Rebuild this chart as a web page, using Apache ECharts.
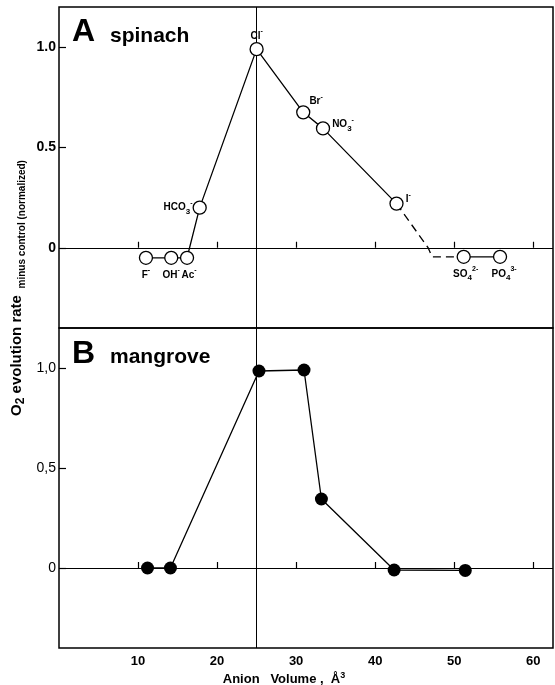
<!DOCTYPE html>
<html>
<head>
<meta charset="utf-8">
<title>Anion volume</title>
<script src="https://cdn.jsdelivr.net/npm/echarts@6/dist/echarts.min.js"></script>
<style>
  html, body { margin: 0; padding: 0; background: #fff; }
  #chart { width: 555px; height: 685px; }
</style>
</head>
<body>
<div id="chart"></div>
<script>
// axis ticks
const xTicks = [10, 20, 30, 40, 50, 60];
const yTicks = [0, 0.5, 1];
const topYLabels = ['0', '0.5', '1.0'];
const bottomYLabels = ['0', '0,5', '1,0'];

// A spinach
const spinachIons = ['F{sup|-}', 'OH{sup|-}', 'Ac{sup|-}', 'HCO{sub|3}{sup|-}', 'Cl{sup|-}',
  'Br{sup|-}', 'NO{sub|3}{sup|-}', 'I{sup|-}', 'SO{sub|4}{sup|2-}', 'PO{sub|4}{sup|3-}'];
const spinachVol = [11.0, 14.2, 16.2, 17.8, 25.0, 30.9, 33.4, 42.7, 51.2, 55.8];
const spinachRate = [-0.05, -0.05, -0.05, 0.2, 0.99, 0.675, 0.595, 0.22, -0.045, -0.045];
// dashed part I- -> SO4
const spinachDashVol = [42.7, 46.7, 47.2, 51.2];
const spinachDashRate = [0.22, 0, -0.045, -0.045];

// B mangrove
const mangroveVol = [11.2, 14.1, 25.3, 31.0, 33.2, 42.4, 51.4];
const mangroveRate = [0, 0, 0.985, 0.99, 0.345, -0.01, -0.012];

// where each ion name sits
const ionLabel = [
  { position: 'bottom', distance: 2, offset: [0, 0] },
  { position: 'bottom', distance: 2, offset: [0, 0] },
  { position: 'bottom', distance: 2, offset: [2, 0] },
  { position: 'left', distance: 0, offset: [0, 0] },
  { position: 'top', distance: 0, offset: [0, 2] },
  { position: 'right', distance: 0, offset: [-1, -11] },
  { position: 'right', distance: 2, offset: [0, -4] },
  { position: 'right', distance: 2, offset: [0, -4] },
  { position: 'bottom', distance: 2, offset: [2, 0] },
  { position: 'bottom', distance: 2, offset: [4, 0] }
];

const font = 'Liberation Sans';
const pairs = (xs, ys) => xs.map((x, i) => [x, ys[i]]);

const chart = echarts.init(document.getElementById('chart'));

const gridStyle = { show: true, borderColor: '#000', borderWidth: 1.5, backgroundColor: 'transparent' };

function xAxis(idx, labels) {
  return {
    type: 'value', gridIndex: idx, min: 0, max: 62.5,
    splitLine: { show: false },
    axisLine: { show: false },
    axisTick: { inside: true, length: 6, customValues: xTicks, lineStyle: { color: '#000', width: 1.2 } },
    axisLabel: {
      show: labels, customValues: xTicks, margin: 7,
      color: '#000', fontFamily: font, fontWeight: 'bold', fontSize: 13
    }
  };
}

function yAxis(idx, names, weight) {
  return {
    type: 'value', gridIndex: idx, min: -0.4, max: 1.2,
    splitLine: { show: false },
    axisLine: { show: false },
    axisTick: { inside: true, length: 7, customValues: yTicks, lineStyle: { color: '#000', width: 1.2 } },
    axisLabel: {
      customValues: yTicks, margin: 3,
      color: '#000', fontFamily: font, fontWeight: weight, fontSize: 14,
      formatter: v => names[yTicks.indexOf(v)]
    }
  };
}

const refLines = {
  silent: true, symbol: 'none', label: { show: false },
  lineStyle: { color: '#000', width: 1, type: 'solid' },
  data: [{ xAxis: 25 }, { yAxis: 0 }]
};

const option = {
  animation: false,
  grid: [
    Object.assign({ left: 59, top: 7, width: 494, height: 321 }, gridStyle),
    Object.assign({ left: 59, top: 328, width: 494, height: 320 }, gridStyle)
  ],
  xAxis: [xAxis(0, false), xAxis(1, true)],
  yAxis: [yAxis(0, topYLabels, 'bold'), yAxis(1, bottomYLabels, 'normal')],
  series: [
    {
      type: 'line', xAxisIndex: 0, yAxisIndex: 0, symbol: 'none',
      lineStyle: { color: '#000', width: 1.3 },
      data: pairs(spinachVol, spinachRate).slice(0, 8),
      markLine: refLines
    },
    {
      type: 'line', xAxisIndex: 0, yAxisIndex: 0, symbol: 'none',
      lineStyle: { color: '#000', width: 1.3 },
      data: pairs(spinachVol, spinachRate).slice(8)
    },
    {
      type: 'line', xAxisIndex: 0, yAxisIndex: 0, symbol: 'none',
      lineStyle: { color: '#000', width: 1.3, type: [8, 5] },
      data: pairs(spinachDashVol, spinachDashRate)
    },
    {
      type: 'scatter', xAxisIndex: 0, yAxisIndex: 0, z: 5,
      symbol: 'circle', symbolSize: 13,
      itemStyle: { color: '#fff', borderColor: '#000', borderWidth: 1.3, opacity: 1 },
      label: {
        show: true, color: '#000', fontFamily: font, fontWeight: 'bold', fontSize: 10, lineHeight: 16,
        formatter: p => p.name,
        rich: {
          sub: { fontFamily: font, fontWeight: 'bold', fontSize: 8, lineHeight: 8, verticalAlign: 'bottom', color: '#000' },
          sup: { fontFamily: font, fontWeight: 'bold', fontSize: 7, lineHeight: 8, verticalAlign: 'top', color: '#000' }
        }
      },
      data: spinachIons.map((n, i) => ({
        name: n, value: [spinachVol[i], spinachRate[i]], label: ionLabel[i]
      }))
    },
    {
      type: 'line', xAxisIndex: 1, yAxisIndex: 1, symbol: 'none',
      lineStyle: { color: '#000', width: 1.3 },
      data: pairs(mangroveVol, mangroveRate),
      markLine: refLines
    },
    {
      type: 'scatter', xAxisIndex: 1, yAxisIndex: 1, z: 5,
      symbol: 'circle', symbolSize: 13,
      itemStyle: { color: '#000', opacity: 1 },
      data: pairs(mangroveVol, mangroveRate)
    }
  ],
  graphic: [
    {
      type: 'text', x: 72, y: 32,
      style: { text: 'A', fill: '#000', font: 'bold 32px "Liberation Sans"', align: 'left', verticalAlign: 'middle' }
    },
    {
      type: 'text', x: 110, y: 36,
      style: { text: 'spinach', fill: '#000', font: 'bold 21px "Liberation Sans"', align: 'left', verticalAlign: 'middle' }
    },
    {
      type: 'text', x: 72, y: 354,
      style: { text: 'B', fill: '#000', font: 'bold 32px "Liberation Sans"', align: 'left', verticalAlign: 'middle' }
    },
    {
      type: 'text', x: 110, y: 357,
      style: { text: 'mangrove', fill: '#000', font: 'bold 21px "Liberation Sans"', align: 'left', verticalAlign: 'middle' }
    },
    {
      type: 'text', x: 17, y: 288, rotation: Math.PI / 2,
      style: {
        text: '{b|O}{s|2}{b| evolution rate}  {m|minus control (normalized)}',
        align: 'center', verticalAlign: 'middle', fill: '#000',
        rich: {
          b: { fontFamily: font, fontWeight: 'bold', fontSize: 15, lineHeight: 20, color: '#000' },
          s: { fontFamily: font, fontWeight: 'bold', fontSize: 12, lineHeight: 10, verticalAlign: 'bottom', color: '#000' },
          m: { fontFamily: font, fontWeight: 'bold', fontSize: 10, lineHeight: 14, verticalAlign: 'bottom', color: '#000' }
        }
      }
    },
    {
      type: 'text', x: 284, y: 679,
      style: {
        text: '{t|Anion   Volume ,  Å}{p|3}',
        align: 'center', verticalAlign: 'middle', fill: '#000',
        rich: {
          t: { fontFamily: font, fontWeight: 'bold', fontSize: 13, lineHeight: 16, color: '#000' },
          p: { fontFamily: font, fontWeight: 'bold', fontSize: 9, lineHeight: 8, verticalAlign: 'top', color: '#000' }
        }
      }
    }
  ]
};

chart.setOption(option);
</script>
</body>
</html>
